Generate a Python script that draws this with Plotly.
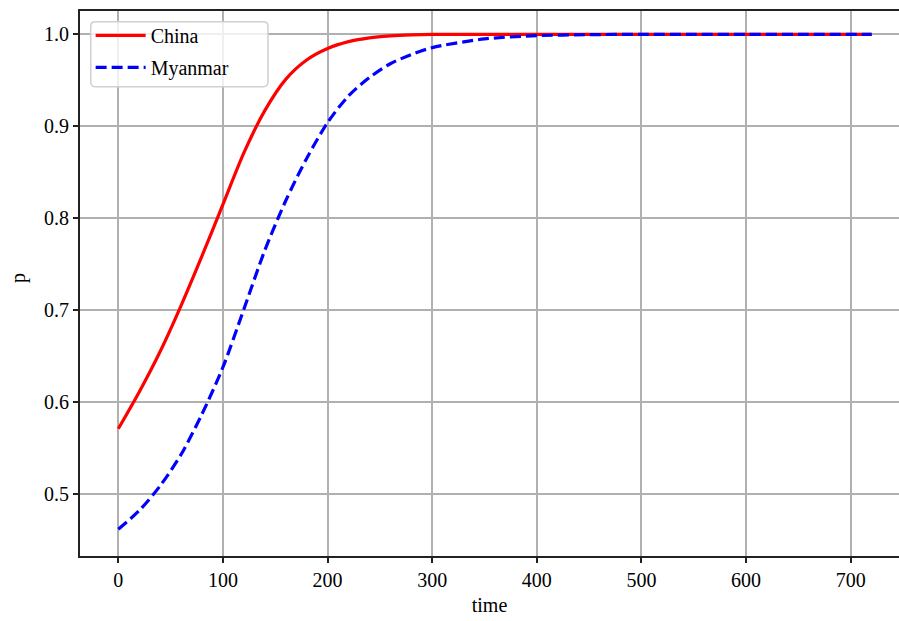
import plotly.graph_objects as go

# time points
t_china = [0, 20, 40, 60, 80, 100, 120, 140, 160, 180, 200, 220, 240, 260, 280, 300,
           350, 400, 450, 500, 550, 600, 650, 720]
p_china = [0.571, 0.611, 0.655, 0.705, 0.759, 0.815, 0.871, 0.917, 0.951, 0.972, 0.9845,
           0.992, 0.9962, 0.9983, 0.9994, 0.9999, 1.0, 1.0, 1.0, 1.0, 1.0, 1.0, 1.0, 1.0]

t_myanmar = [0, 20, 40, 60, 80, 100, 120, 140, 160, 180, 200, 220, 240, 260, 280, 300,
             350, 400, 450, 500, 550, 600, 650, 720]
p_myanmar = [0.4617, 0.482, 0.509, 0.543, 0.587, 0.638, 0.701, 0.765, 0.819, 0.865, 0.904,
             0.933, 0.953, 0.968, 0.978, 0.9855, 0.995, 0.9985, 0.9996, 1.0, 1.0, 1.0, 1.0, 1.0]

x_ticks = [0, 100, 200, 300, 400, 500, 600, 700]
y_ticks = [0.5, 0.6, 0.7, 0.8, 0.9, 1.0]
y_tick_labels = ["0.5", "0.6", "0.7", "0.8", "0.9", "1.0"]

FONT = "Liberation Serif"

fig = go.Figure()
fig.add_trace(go.Scatter(
    x=t_china, y=p_china, mode="lines", name="China", legendgroup="a",
    line=dict(color="#ff0000", width=3.2, shape="spline", smoothing=0.8),
))
fig.add_trace(go.Scatter(
    x=t_myanmar, y=p_myanmar, mode="lines", name="Myanmar", legendgroup="b",
    line=dict(color="#0000ff", width=3.2, dash="11px,5px", shape="spline", smoothing=0.8),
))

# legend frame (rounded, semi-transparent) in paper coordinates
x0, x1, y0, y1 = 0.0131, 0.2295, 0.8611, 0.9804
rx, ry = 0.0055, 0.0085
frame_path = (
    f"M {x0+rx},{y1} L {x1-rx},{y1} Q {x1},{y1} {x1},{y1-ry} "
    f"L {x1},{y0+ry} Q {x1},{y0} {x1-rx},{y0} "
    f"L {x0+rx},{y0} Q {x0},{y0} {x0},{y0+ry} "
    f"L {x0},{y1-ry} Q {x0},{y1} {x0+rx},{y1} Z"
)
fig.add_shape(type="path", path=frame_path, xref="paper", yref="paper",
              fillcolor="rgba(255,255,255,0.8)", line=dict(color="#d0d0d0", width=1.5),
              layer="above")

# y-axis title as annotation for exact placement
fig.add_annotation(text="p", xref="paper", yref="paper", x=-0.0757, y=0.51,
                   xanchor="center", yanchor="middle", textangle=-90, showarrow=False,
                   font=dict(family=FONT, size=20, color="black"))

fig.update_layout(
    width=899, height=621,
    margin=dict(l=80, r=0, t=11, b=65),
    paper_bgcolor="white", plot_bgcolor="white",
    font=dict(family=FONT, size=20, color="black"),
    showlegend=True,
    legend=dict(
        x=0.013, y=0.991, xanchor="left", yanchor="top",
        bgcolor="rgba(0,0,0,0)", borderwidth=0,
        font=dict(family=FONT, size=20), traceorder="grouped", tracegroupgap=3,
        itemwidth=50,
    ),
    xaxis=dict(
        range=[-36.6, 746.1], tickvals=x_ticks, ticktext=[str(v) for v in x_ticks],
        showgrid=True, gridcolor="#b0b0b0", gridwidth=1.5,
        showline=True, linecolor="#222222", linewidth=2, mirror=True,
        ticks="outside", ticklen=5, tickwidth=2, tickcolor="#222222",
        zeroline=False, tickfont=dict(family=FONT, size=20),
        title=dict(text="time", font=dict(family=FONT, size=20), standoff=8),
    ),
    yaxis=dict(
        range=[0.4326, 1.02535], tickvals=y_ticks, ticktext=y_tick_labels,
        showgrid=True, gridcolor="#b0b0b0", gridwidth=1.5,
        showline=True, linecolor="#222222", linewidth=2, mirror=False,
        ticks="outside", ticklen=5, tickwidth=2, tickcolor="#222222",
        zeroline=False, tickfont=dict(family=FONT, size=20),
    ),
)

fig.write_html("out.html")
